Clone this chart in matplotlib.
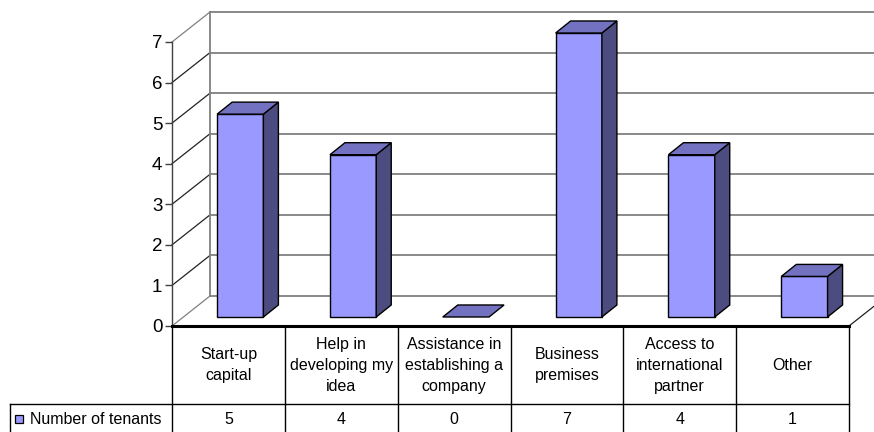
import matplotlib
matplotlib.use("Agg")
import matplotlib.pyplot as plt
from matplotlib.patches import Polygon, Rectangle

plt.rcParams["font.family"] = ["Liberation Sans", "DejaVu Sans"]

categories = ["Start-up\ncapital", "Help in\ndeveloping my\nidea", "Assistance in\nestablishing a\ncompany",
              "Business\npremises", "Access to\ninternational\npartner", "Other"]
tenants = [5, 4, 0, 7, 4, 1]
series_name = "Number of tenants"
yticks = list(range(8))

FRONT, TOP, SIDE = "#9999ff", "#7272c0", "#4c4c80"
GRID = "#808080"

# pseudo-3D geometry in data units (category units in x, value units in y)
DX, DY = 0.337, 0.74          # wall depth
FY = 0.222                    # bar front offset into the depth
BX, BY = 0.133, 0.296         # bar depth
BW, B0 = 0.41, 0.40           # bar width, bar start inside column
YMAX = 7

fig = plt.figure(figsize=(8.74, 4.32), dpi=100)
ax = fig.add_axes([172/874, (432-326)/432, 677/874, 284/432])
ax.set_xlim(0, len(categories))
ax.set_ylim(0, YMAX)
n = len(categories)

# walls and gridlines
for v in yticks:
    ax.plot([0, DX], [v, v + DY], color=GRID if v in (0, YMAX) else "#222222", lw=0.9, clip_on=False, zorder=1)
    ax.plot([DX, n + DX + 0.5], [v + DY, v + DY], color=GRID, lw=1.3, clip_on=False, zorder=1)
ax.plot([DX, DX], [DY, YMAX + DY], color=GRID, lw=1.3, clip_on=False, zorder=1)
ax.plot([n, n + DX], [0, DY], color="#222222", lw=0.9, clip_on=False, zorder=1)

# bars
for i, v in enumerate(tenants):
    x0 = i + B0
    x1 = x0 + BW
    y0 = FY
    y1 = FY + v
    kw = dict(edgecolor="black", lw=1.0, clip_on=False, zorder=3, joinstyle="miter")
    if v > 0:
        ax.add_patch(Polygon([(x0, y0), (x1, y0), (x1, y1), (x0, y1)], closed=True, facecolor=FRONT, **kw))
        ax.add_patch(Polygon([(x1, y0), (x1 + BX, y0 + BY), (x1 + BX, y1 + BY), (x1, y1)], closed=True,
                             facecolor=SIDE, **kw))
    ax.add_patch(Polygon([(x0, y1), (x1, y1), (x1 + BX, y1 + BY), (x0 + BX, y1 + BY)], closed=True,
                         facecolor=TOP, **kw))

# axis styling
for s in ["top", "right", "bottom"]:
    ax.spines[s].set_visible(False)
ax.spines["left"].set_color("#404040")
ax.spines["left"].set_linewidth(1.0)
ax.set_xticks([])
ax.set_yticks(yticks)
ax.tick_params(axis="y", length=5, width=1, color="#404040", labelsize=13.5, pad=2)
ax.patch.set_alpha(0)

# data table below
R1 = -78/40.57
R2 = R1 - 40/40.57
LEFT = (10 - 172)/112.83
ax.plot([0, n], [0, 0], color="black", lw=2.2, clip_on=False, zorder=4)
ax.plot([LEFT, n], [R1, R1], color="black", lw=1.0, clip_on=False)
for i in range(n + 1):
    ax.plot([i, i], [0, R2], color="black", lw=1.0, clip_on=False)
ax.plot([LEFT, LEFT], [R1, R2], color="black", lw=1.0, clip_on=False)

for i, (c, v) in enumerate(zip(categories, tenants)):
    ax.text(i + 0.5, R1/2, c, ha="center", va="center", fontsize=11.5, linespacing=1.5, clip_on=False)
    ax.text(i + 0.5, R1 - 0.38, str(v), ha="center", va="center", fontsize=11.5, clip_on=False)

ax.add_patch(Rectangle((LEFT + 5/112.83, R1 - 0.38 - 4/40.57), 8/112.83, 8/40.57,
                       facecolor=FRONT, edgecolor="black", lw=0.9, clip_on=False))
ax.text(LEFT + 20/112.83, R1 - 0.38, series_name, ha="left", va="center", fontsize=11.5, clip_on=False)

fig.savefig("out.png", dpi=100)
